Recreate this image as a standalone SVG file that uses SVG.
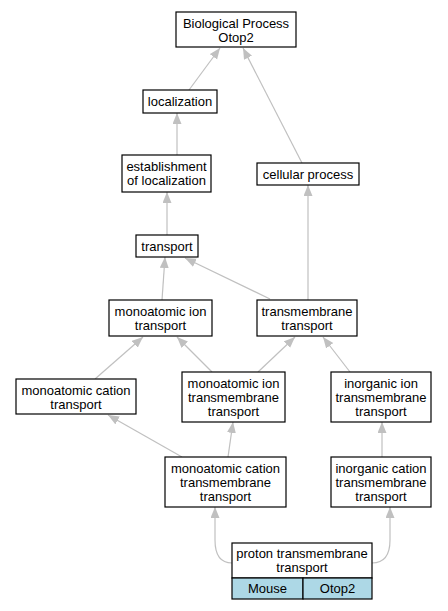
<svg xmlns="http://www.w3.org/2000/svg" width="448" height="611" viewBox="0 0 448 611">
<defs>
<marker id="ah" markerUnits="userSpaceOnUse" markerWidth="12" markerHeight="10" refX="11" refY="4.5" orient="auto">
<path d="M0,0 L11,4.5 L0,9 z" fill="#c0c0c0"/>
</marker>
<style>
.n rect{fill:#fff;stroke:#000;stroke-width:1.2}
.n text, text{font-family:"Liberation Sans",Arial,sans-serif;font-size:13px;text-anchor:middle;fill:#000}
.e path{fill:none;stroke:#c0c0c0;stroke-width:1.2;marker-end:url(#ah)}
.cell{fill:#add8e6 !important}
</style>
</defs>
<rect width="448" height="611" fill="#fff"/>
<g class="e" id="connectors">
<path d="M189,90 L220,48"/>
<path d="M302,163 L243,48"/>
<path d="M177,155 L177,113"/>
<path d="M167,235 L167,192"/>
<path d="M308,300 L308,185"/>
<path d="M270,299 L185,258"/>
<path d="M162,300 L165,257"/>
<path d="M95,379 L143,337"/>
<path d="M212,372 L177,337"/>
<path d="M258,372 L295,337"/>
<path d="M350,372 L323,337"/>
<path d="M182,457 L108,415"/>
<path d="M228,457 L233,422"/>
<path d="M382,457 L382,422"/>
<path d="M232,563 C220,563 215,555 215,540 L215,507"/>
<path d="M372,563 C384,563 390,555 390,540 L390,507"/>
</g>
<g class="n" id="bio"><rect x="176" y="12" width="120" height="35"/><text x="236" y="28">Biological Process</text><text x="236" y="42">Otop2</text></g>
<g class="n" id="localization"><rect x="143" y="90" width="74" height="23"/><text x="180" y="106">localization</text></g>
<g class="n" id="establishment"><rect x="122" y="155" width="89" height="37"/><text x="166.5" y="171">establishment</text><text x="166.5" y="185">of localization</text></g>
<g class="n" id="cellular"><rect x="257" y="163" width="102" height="22"/><text x="308" y="179">cellular process</text></g>
<g class="n" id="transport"><rect x="136" y="235" width="62" height="22"/><text x="167" y="251">transport</text></g>
<g class="n" id="miont"><rect x="109" y="300" width="103" height="36"/><text x="160.5" y="316">monoatomic ion</text><text x="160.5" y="330">transport</text></g>
<g class="n" id="tmt"><rect x="257" y="300" width="100" height="36"/><text x="307" y="316">transmembrane</text><text x="307" y="330">transport</text></g>
<g class="n" id="mct"><rect x="16" y="379" width="120" height="35"/><text x="76" y="395">monoatomic cation</text><text x="76" y="409">transport</text></g>
<g class="n" id="miotm"><rect x="182" y="372" width="103" height="50"/><text x="233.5" y="388">monoatomic ion</text><text x="233.5" y="402">transmembrane</text><text x="233.5" y="416">transport</text></g>
<g class="n" id="iitm"><rect x="331" y="372" width="100" height="50"/><text x="381" y="388">inorganic ion</text><text x="381" y="402">transmembrane</text><text x="381" y="416">transport</text></g>
<g class="n" id="mctm"><rect x="165" y="457" width="121" height="50"/><text x="225.5" y="473">monoatomic cation</text><text x="225.5" y="487">transmembrane</text><text x="225.5" y="501">transport</text></g>
<g class="n" id="ictm"><rect x="331" y="457" width="100" height="50"/><text x="381" y="473">inorganic cation</text><text x="381" y="487">transmembrane</text><text x="381" y="501">transport</text></g>
<g class="n" id="proton"><rect x="232" y="543" width="140" height="35"/><rect class="cell" x="232" y="578" width="71" height="21"/><rect class="cell" x="303" y="578" width="69" height="21"/><text x="302" y="558">proton transmembrane</text><text x="302" y="572">transport</text><text x="267.5" y="593">Mouse</text><text x="337.5" y="593">Otop2</text></g>
</svg>
